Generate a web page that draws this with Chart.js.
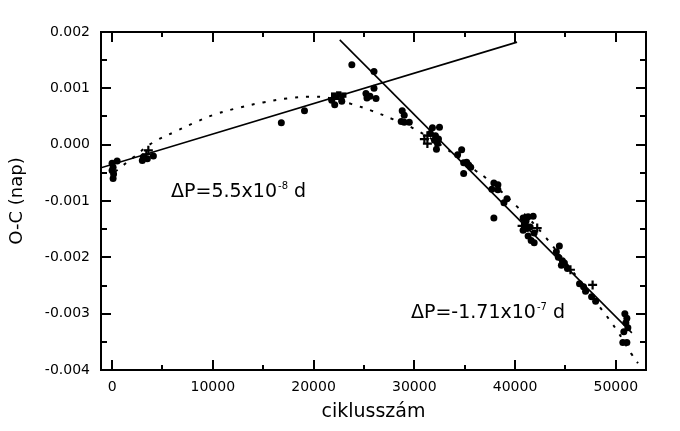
<!DOCTYPE html>
<html>
<head>
<meta charset="utf-8">
<script src="https://cdn.jsdelivr.net/npm/chart.js@4"></script>
<style>
  html, body { margin: 0; padding: 0; background: #fff; }
</style>
</head>
<body>
<canvas id="c" width="680" height="431"></canvas>
<script>
// O-C diagram: ciklusszám vs O-C (nap)

// axis ticks
var xTicks = [0, 10000, 20000, 30000, 40000, 50000];
var xMinor = [5000, 15000, 25000, 35000, 45000];
var yTicks = [-0.004, -0.003, -0.002, -0.001, 0, 0.001, 0.002];
var yMinor = [-0.0035, -0.0025, -0.0015, -0.0005, 0.0005, 0.0015];

// observed minima (filled circles)
var dots = [
  [0, -0.00033], [500, -0.00029], [100, -0.0004], [0, -0.00046], [150, -0.00052], [100, -0.0006],
  [3000, -0.00028], [3100, -0.00022], [4100, -0.0002], [3500, -0.00025],
  [16800, 0.00039], [19100, 0.0006],
  [22100, 0.00071], [22800, 0.00077], [21800, 0.00079],
  [23800, 0.00142], [26000, 0.0013], [25200, 0.00091], [25300, 0.00083], [26200, 0.00082], [26000, 0.001], [25600, 0.00086],
  [28800, 0.0006], [29000, 0.00052], [29000, 0.0004], [29500, 0.0004], [28700, 0.00041],
  [31800, 0.0003], [32500, 0.00031], [31600, 0.0002], [32100, 0.00016], [32400, 0.0001], [32300, 0.00002], [32200, -0.00008], [32000, 0.00008],
  [34300, -0.00018], [34700, -0.00009], [34900, -0.00032], [35200, -0.00031], [35600, -0.0004], [34900, -0.00051], [35400, -0.00036],
  [37900, -0.00068], [38300, -0.00071], [37700, -0.00079], [38300, -0.0008], [38900, -0.00103], [39200, -0.00096], [37900, -0.0013],
  [40800, -0.0013], [41300, -0.00128], [41800, -0.00127], [41000, -0.0014], [41500, -0.00146], [40800, -0.00152], [41200, -0.00149],
  [41900, -0.00157], [41300, -0.00162], [41600, -0.0017], [41900, -0.00174], [41100, -0.00135],
  [44400, -0.0018], [44100, -0.0019], [44300, -0.002], [44700, -0.00206], [44600, -0.00214], [45200, -0.0022], [44900, -0.0021],
  [46400, -0.00247], [46800, -0.00252], [47000, -0.0026], [47600, -0.0027], [48000, -0.00278],
  [50900, -0.003], [51100, -0.00308], [51000, -0.00316], [51200, -0.00325], [50800, -0.00332], [50700, -0.00351], [51100, -0.00351]
];
// plus markers
var pluses = [
  [3600, -0.0001], [3400, -0.00017],
  [31300, 0.00016], [31300, 0.00002], [31000, 0.0001],
  [42200, -0.00148], [40700, -0.00144],
  [45500, -0.00222], [47700, -0.00249]
];
// square markers
var squares = [[22000, 0.00088], [22500, 0.0009], [23000, 0.00088], [22300, 0.00084], [22800, 0.00084]];

// linear fits (end points) and parabola (dotted)
var fitOld = [[-1100, -0.00041], [40200, 0.00182]];
var fitNew = [[22600, 0.00186], [51600, -0.00334]];
var parabola = [
  [300, -0.00048], [2080, -0.00023], [4070, 0.00004], [6250, 0.00023], [8430, 0.00041], [10420, 0.00055],
  [12700, 0.00066], [14980, 0.00075], [17360, 0.00082], [19640, 0.00085], [21500, 0.00083],
  [23800, 0.00072], [25800, 0.0006], [27900, 0.00045], [29900, 0.00029], [32900, -0.00004],
  [36000, -0.00045], [37100, -0.00059], [40200, -0.0011], [43100, -0.00166], [48700, -0.00295],
  [50200, -0.00332], [51500, -0.0037], [52200, -0.00388]
];

var notes = [
  { x: 5850, y: -0.00093, main: 'ΔP=5.5x10', sup: '-8', tail: ' d' },
  { x: 29670, y: -0.00308, main: 'ΔP=-1.71x10', sup: '-7', tail: ' d' }
];

function xy(arr) { return arr.map(function (p) { return { x: p[0], y: p[1] }; }); }
var FONT = 'DejaVu Sans';

var frame = {
  id: 'frame',
  afterDatasetsDraw: function (ch) {
    var ctx = ch.ctx, a = ch.chartArea, sx = ch.scales.x, sy = ch.scales.y;
    ctx.save();
    ctx.strokeStyle = '#000';
    ctx.lineWidth = 2;
    ctx.strokeRect(a.left, a.top, a.right - a.left, a.bottom - a.top);
    function seg(x1, y1, x2, y2) { ctx.beginPath(); ctx.moveTo(x1, y1); ctx.lineTo(x2, y2); ctx.stroke(); }
    function xt(list, len) {
      list.forEach(function (v) {
        var p = Math.round(sx.getPixelForValue(v));
        seg(p, a.bottom, p, a.bottom - len);
        seg(p, a.top, p, a.top + len);
      });
    }
    function yt(list, len) {
      list.forEach(function (v) {
        var p = Math.round(sy.getPixelForValue(v));
        seg(a.left, p, a.left + len, p);
        seg(a.right, p, a.right - len, p);
      });
    }
    xt(xTicks, 10); xt(xMinor, 5);
    yt(yTicks, 10); yt(yMinor, 6);

    ctx.fillStyle = '#000';
    ctx.textBaseline = 'alphabetic';
    notes.forEach(function (n) {
      var x = sx.getPixelForValue(n.x), y = sy.getPixelForValue(n.y);
      ctx.font = '19px "' + FONT + '"';
      ctx.fillText(n.main, x, y);
      var w = ctx.measureText(n.main).width;
      ctx.font = '10px "' + FONT + '"';
      ctx.fillText(n.sup, x + w + 1, y - 8);
      var w2 = ctx.measureText(n.sup).width;
      ctx.font = '19px "' + FONT + '"';
      ctx.fillText(n.tail, x + w + 1 + w2, y);
    });
    ctx.restore();
  }
};

new Chart(document.getElementById('c'), {
  type: 'scatter',
  data: {
    datasets: [
      { data: xy(parabola), showLine: true, borderColor: '#000', borderWidth: 2, borderDash: [3, 8], pointRadius: 0, tension: 0.4, fill: false },
      { data: xy(fitOld), showLine: true, borderColor: '#000', borderWidth: 1.6, pointRadius: 0 },
      { data: xy(fitNew), showLine: true, borderColor: '#000', borderWidth: 1.6, pointRadius: 0 },
      { data: xy(dots), pointStyle: 'circle', pointRadius: 3.5, backgroundColor: '#000', borderColor: '#000', borderWidth: 0 },
      { data: xy(pluses), pointStyle: 'cross', pointRadius: 4.5, borderColor: '#000', borderWidth: 2.2 },
      { data: xy(squares), pointStyle: 'rect', pointRadius: 3.8, backgroundColor: '#000', borderColor: '#000', borderWidth: 0 }
    ]
  },
  options: {
    responsive: false,
    animation: false,
    devicePixelRatio: 1,
    layout: { padding: { left: 0, right: 34, top: 32, bottom: 0 } },
    plugins: { legend: { display: false }, tooltip: { enabled: false } },
    scales: {
      x: {
        type: 'linear', min: -1100, max: 53000,
        afterBuildTicks: function (s) { s.ticks = xTicks.map(function (v) { return { value: v }; }); },
        afterFit: function (s) { s.height = 61; },
        grid: { display: false, drawTicks: false },
        border: { display: false },
        ticks: { color: '#000', padding: 9, maxRotation: 0, font: { family: FONT, size: 14 },
          callback: function (v) { return String(v); } },
        title: { display: true, text: 'ciklusszám', color: '#000', font: { family: FONT, size: 19 }, padding: { top: 0, bottom: 8 } }
      },
      y: {
        type: 'linear', min: -0.004, max: 0.002,
        afterBuildTicks: function (s) { s.ticks = yTicks.map(function (v) { return { value: v }; }); },
        afterFit: function (s) { s.width = 101; },
        grid: { display: false, drawTicks: false },
        border: { display: false },
        ticks: { color: '#000', padding: 11, font: { family: FONT, size: 14 },
          callback: function (v) { return Math.abs(v) < 1e-12 ? '0.000' : v.toFixed(3); } },
        title: { display: true, text: 'O-C (nap)', color: '#000', font: { family: FONT, size: 18 }, padding: { top: 7, bottom: 0 } }
      }
    }
  },
  plugins: [frame]
});
</script>
</body>
</html>
